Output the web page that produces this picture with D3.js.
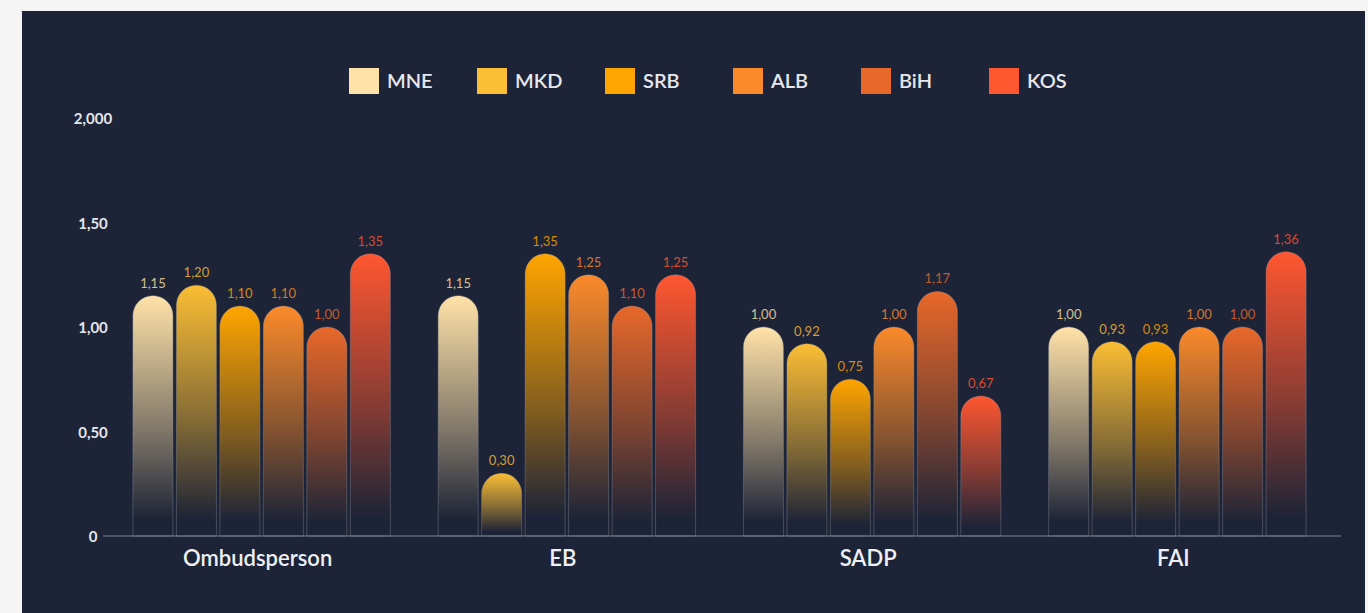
<!DOCTYPE html>
<html>
<head>
<meta charset="utf-8">
<script src="https://cdn.jsdelivr.net/npm/d3@7"></script>
<style>
  html, body { margin: 0; padding: 0; background: #f5f5f5; }
  svg { display: block; font-family: Lato, "Open Sans", sans-serif; }
</style>
</head>
<body>
<div id="chart"></div>
<script>
// chart data
const categories = ["Ombudsperson", "EB", "SADP", "FAI"];
const seriesNames = ["MNE", "MKD", "SRB", "ALB", "BiH", "KOS"];
const seriesColors = ["#ffe2a8", "#fbbe34", "#ffa500", "#fb8a2a", "#e8682a", "#ff5730"];
const MNE = [1.15, 1.15, 1.00, 1.00];
const MKD = [1.20, 0.30, 0.92, 0.93];
const SRB = [1.10, 1.35, 0.75, 0.93];
const ALB = [1.10, 1.25, 1.00, 1.00];
const BiH = [1.00, 1.10, 1.17, 1.00];
const KOS = [1.35, 1.25, 0.67, 1.36];
const yTicks = [0, 0.5, 1, 1.5, 2];
const yTickLabels = ["0", "0,50", "1,00", "1,50", "2,000"];

const seriesValues = [MNE, MKD, SRB, ALB, BiH, KOS];

const width = 1368, height = 613;

const svg = d3.select("#chart").append("svg")
   .attr("width", width)
   .attr("height", height);

// dark panel
svg.append("rect")
   .attr("x", 22).attr("y", 11)
   .attr("width", 1343).attr("height", height - 11)
   .attr("fill", "#1e2437");

// one gradient per series, fading into the panel colour
const defs = svg.append("defs");
seriesColors.forEach((c, i) => {
   const g = defs.append("linearGradient")
      .attr("id", "grad" + i)
      .attr("x1", 0).attr("y1", 0).attr("x2", 0).attr("y2", 1);
   g.append("stop").attr("offset", "0%").attr("stop-color", c).attr("stop-opacity", 1);
   g.append("stop").attr("offset", "55%").attr("stop-color", c).attr("stop-opacity", 0.45);
   g.append("stop").attr("offset", "93%").attr("stop-color", c).attr("stop-opacity", 0);
});

const x0 = d3.scaleBand()
   .domain(categories)
   .range([109, 1330])
   .paddingInner(0);

const x1 = d3.scaleBand()
   .domain(seriesNames)
   .range([0, x0.bandwidth()])
   .paddingInner(0.08)
   .paddingOuter(0.55);

const y = d3.scaleLinear()
   .domain([0, 2])
   .range([536, 118]);

// y tick labels
svg.append("g")
   .selectAll("text")
   .data(yTicks)
   .join("text")
   .attr("x", 93)
   .attr("y", d => y(d) + 1)
   .attr("dy", "0.35em")
   .attr("text-anchor", "middle")
   .attr("fill", "#e4e6ec")
   .attr("font-size", 15)
   .attr("font-weight", 700)
   .text((d, i) => yTickLabels[i]);

// baseline
svg.append("line")
   .attr("x1", 103).attr("x2", 1341)
   .attr("y1", y(0)).attr("y2", y(0))
   .attr("stroke", "#4d5467")
   .attr("stroke-width", 2);

// bars with rounded tops
function barPath(x, top, w, bottom) {
   const r = Math.min(w / 2, bottom - top);
   return `M${x},${bottom}V${top + r}A${r},${r} 0 0 1 ${x + r},${top}` +
      `H${x + w - r}A${r},${r} 0 0 1 ${x + w},${top + r}V${bottom}Z`;
}

const groups = svg.append("g")
   .selectAll("g")
   .data(categories)
   .join("g")
   .attr("transform", d => `translate(${x0(d)},0)`);

const barData = (cat, ci) => seriesNames.map((s, si) => ({ s, si, v: seriesValues[si][ci] }));

groups.selectAll("path")
   .data((d, ci) => barData(d, ci))
   .join("path")
   .attr("d", d => barPath(x1(d.s), y(d.v), x1.bandwidth(), y(0)))
   .attr("fill", d => `url(#grad${d.si})`)
   .attr("stroke", "rgba(150,155,170,0.35)")
   .attr("stroke-width", 1);

groups.selectAll("text")
   .data((d, ci) => barData(d, ci))
   .join("text")
   .attr("x", d => x1(d.s) + x1.bandwidth() / 2)
   .attr("y", d => y(d.v) - 8)
   .attr("text-anchor", "middle")
   .attr("font-size", 13)
   .attr("fill", d => seriesColors[d.si])
   .attr("fill-opacity", 0.82)
   .text(d => d3.format(".2f")(d.v).replace(".", ","));

// category labels
svg.append("g")
   .selectAll("text")
   .data(categories)
   .join("text")
   .attr("x", d => x0(d) + x0.bandwidth() / 2 - 4)
   .attr("y", 566)
   .attr("text-anchor", "middle")
   .attr("fill", "#eef0f4")
   .attr("font-size", 22)
   .attr("font-weight", 600)
   .text(d => d);

// legend
const legend = svg.append("g")
   .selectAll("g")
   .data(seriesNames)
   .join("g")
   .attr("transform", (d, i) => `translate(${349 + i * 128},68)`);

legend.append("rect")
   .attr("width", 30).attr("height", 26)
   .attr("fill", (d, i) => seriesColors[i]);

legend.append("text")
   .attr("x", 38).attr("y", 13)
   .attr("dy", "0.36em")
   .attr("fill", "#e6e8ee")
   .attr("font-size", 20)
   .attr("font-weight", 600)
   .text(d => d);
</script>
</body>
</html>
